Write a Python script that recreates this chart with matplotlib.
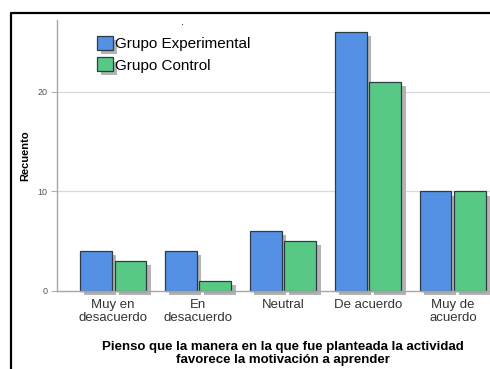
import matplotlib
matplotlib.use("Agg")
import matplotlib.pyplot as plt
import numpy as np
from matplotlib.patches import Patch
from matplotlib.lines import Line2D
import matplotlib.patheffects as pe

# Data
categories = ["Muy en\ndesacuerdo", "En\ndesacuerdo", "Neutral", "De acuerdo", "Muy de\nacuerdo"]
experimental = [4, 4, 6, 26, 10]
control = [3, 1, 5, 21, 10]
series_names = ["Grupo Experimental", "Grupo Control"]

plt.rcParams['font.family'] = ['Liberation Sans', 'DejaVu Sans']

blue = "#5490e3"
green = "#58c985"
edge = "#2e3b47"
shadow = [pe.SimplePatchShadow(offset=(3, -3), shadow_rgbFace="#b3b3b3", alpha=1.0), pe.Normal()]

fig = plt.figure(figsize=(4.9, 3.69), dpi=100)
ax = fig.add_axes([57 / 490, 78 / 369, 452 / 490, 271 / 369])

x = np.arange(len(categories))
w = 0.376
off = 0.205
for vals, col, sgn in [(experimental, blue, -1), (control, green, 1)]:
    bars = ax.bar(x + sgn * off, vals, width=w, color=col, edgecolor=edge,
                  linewidth=0.9, zorder=3, clip_on=False)
    for b in bars:
        b.set_path_effects(shadow)

ax.set_xlim(-0.66, 4.66)
ax.set_ylim(0, 27.2)
ax.set_yticks([0, 10, 20])
ax.set_xticks(x)
ax.set_xticklabels(categories, fontsize=9.5, color="#333333", linespacing=1.1)
ax.tick_params(axis="x", length=0, pad=6)
ax.tick_params(axis="y", length=4, color="#b0b0b0", labelsize=6.5, labelcolor="#555555", pad=3)
for y in [10, 20]:
    ax.axhline(y, color="#d9d9d9", linewidth=0.9, zorder=1)
for s in ["top", "right"]:
    ax.spines[s].set_visible(False)
for s in ["left", "bottom"]:
    ax.spines[s].set_color("#a6a6a6")
    ax.spines[s].set_linewidth(1.0)
ax.spines["bottom"].set_zorder(4)

ax.set_ylabel("Recuento", fontsize=8, fontweight="bold", labelpad=5)
ax.set_xlabel("Pienso que la manera en la que fue planteada la actividad\nfavorece la motivación a aprender",
              fontsize=9.5, fontweight="bold", linespacing=1.1, labelpad=12)

handles = [Patch(facecolor=blue, edgecolor=edge, linewidth=0.9, path_effects=shadow),
           Patch(facecolor=green, edgecolor=edge, linewidth=0.9, path_effects=shadow)]
ax.legend(handles, series_names, loc="upper left", bbox_to_anchor=(0.088, 0.94),
          frameon=False, fontsize=11, handlelength=1.05, handleheight=1.0,
          handletextpad=0.15, labelspacing=0.4, borderpad=0, borderaxespad=0)
ax.text(0.277, 0.975, ".", transform=ax.transAxes, fontsize=8, ha="center", va="bottom")

# outer frame
fx = 10.5 / 490
fy = 1 - 12.5 / 369
fig.add_artist(Line2D([fx, fx, 1.0], [0, fy, fy], color="black", linewidth=1.6,
                      transform=fig.transFigure))

fig.savefig("out.png", dpi=100)
